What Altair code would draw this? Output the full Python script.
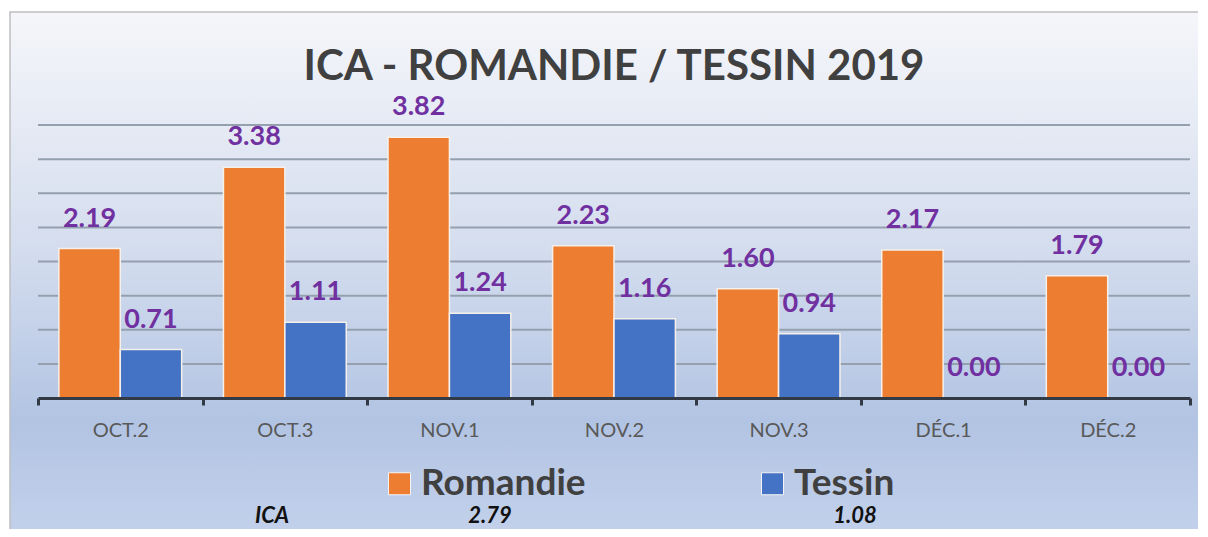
import altair as alt
import pandas as pd

categories = ["OCT.2", "OCT.3", "NOV.1", "NOV.2", "NOV.3", "DÉC.1", "DÉC.2"]
romandie = [2.19, 3.38, 3.82, 2.23, 1.60, 2.17, 1.79]
tessin = [0.71, 1.11, 1.24, 1.16, 0.94, 0.00, 0.00]
series = ["Romandie", "Tessin"]
colors = ["#ED7D31", "#4472C4"]
title_text = "ICA - ROMANDIE / TESSIN 2019"
footer_labels = ["ICA", "2.79", "1.08"]
grid_values = [0.5, 1.0, 1.5, 2.0, 2.5, 3.0, 3.5, 4.0]

rows = []
for i, c in enumerate(categories):
    rows.append({"cat": c, "series": "Romandie", "value": romandie[i]})
    rows.append({"cat": c, "series": "Tessin", "value": tessin[i]})
df = pd.DataFrame(rows)
df["label"] = df["value"].map(lambda v: f"{v:.2f}")

W, H = 1152, 273
FONT = "Lato"

yscale = alt.Scale(domain=[0, 4], nice=False)
x = alt.X("cat:N", sort=categories,
          scale=alt.Scale(paddingInner=0, paddingOuter=0),
          axis=alt.Axis(title=None, labelAngle=0, tickBand="extent",
                        domainColor="#323a45", domainWidth=3,
                        tickColor="#323a45", tickWidth=3, tickSize=7,
                        labelColor="#595959", labelFontSize=20, labelFont=FONT,
                        labelPadding=15, grid=False, zindex=1))
xo = alt.XOffset("series:N", sort=series,
                 scale=alt.Scale(paddingOuter=0.34, paddingInner=0))
y = alt.Y("value:Q", scale=yscale, axis=None)
color = alt.Color("series:N", sort=series,
                  scale=alt.Scale(domain=series, range=colors),
                  legend=alt.Legend(orient="none", legendX=343, legendY=340,
                                    direction="horizontal", title=None,
                                    symbolType="square", symbolSize=484,
                                    labelFontSize=37, labelFont=FONT,
                                    labelFontWeight="bold", labelColor="#404040",
                                    columnPadding=168, symbolStrokeColor="#f4f4f4",
                                    symbolStrokeWidth=1, labelOffset=3,
                                    symbolOpacity=1, labelLimit=400, zindex=1))

gradient = alt.LinearGradient(
    gradient="linear",
    stops=[alt.GradientStop(color="#f5f6fa", offset=0),
           alt.GradientStop(color="#d4ddee", offset=0.45),
           alt.GradientStop(color="#b2c4e3", offset=0.78),
           alt.GradientStop(color="#c3d1eb", offset=1)],
    x1=0, x2=0, y1=0, y2=1)

bg = alt.Chart(alt.Data(values=[{}])).mark_rect(
    color=gradient, stroke="#bfbfbf", strokeWidth=1.5
).encode(x=alt.value(-28), x2=alt.value(1170), y=alt.value(-113), y2=alt.value(412))

grid = alt.Chart(pd.DataFrame({"v": grid_values})).mark_rule(
    color="#95a0af", strokeWidth=2
).encode(y=alt.Y("v:Q", scale=yscale, axis=None), x=alt.value(0), x2=alt.value(W))

base = alt.Chart(df)
bars = base.mark_bar(stroke="#f6f0ea", strokeWidth=1.5).encode(
    x=x, xOffset=xo, y=y, color=color)
labels = base.mark_text(baseline="bottom", dy=-16, color="#7030A0", fontSize=27,
                        fontWeight="bold", font=FONT).encode(
    x=x, xOffset=xo, y=y, text="label:N")

footer_x = [234, 452, 817]
footers = []
for lab, px in zip(footer_labels, footer_x):
    footers.append(
        alt.Chart(alt.Data(values=[{"t": lab}])).mark_text(
            font=FONT, fontSize=22, fontWeight="bold", fontStyle="italic",
            color="#111111", baseline="middle", align="center"
        ).encode(x=alt.value(px), y=alt.value(391), text="t:N")
    )

chart = alt.layer(bg, grid, bars, labels, *footers).properties(
    width=W, height=H,
    title=alt.Title(title_text, fontSize=42, font=FONT, fontWeight="bold",
                    color="#404040", anchor="middle", offset=-78, zindex=1),
    autosize=alt.AutoSizeParams(type="none"),
    padding={"left": 30, "top": 117, "right": 8, "bottom": 131},
).configure_view(stroke=None).configure(background="white")

chart.save("out.html", embed_options={"renderer": "svg", "actions": False})
